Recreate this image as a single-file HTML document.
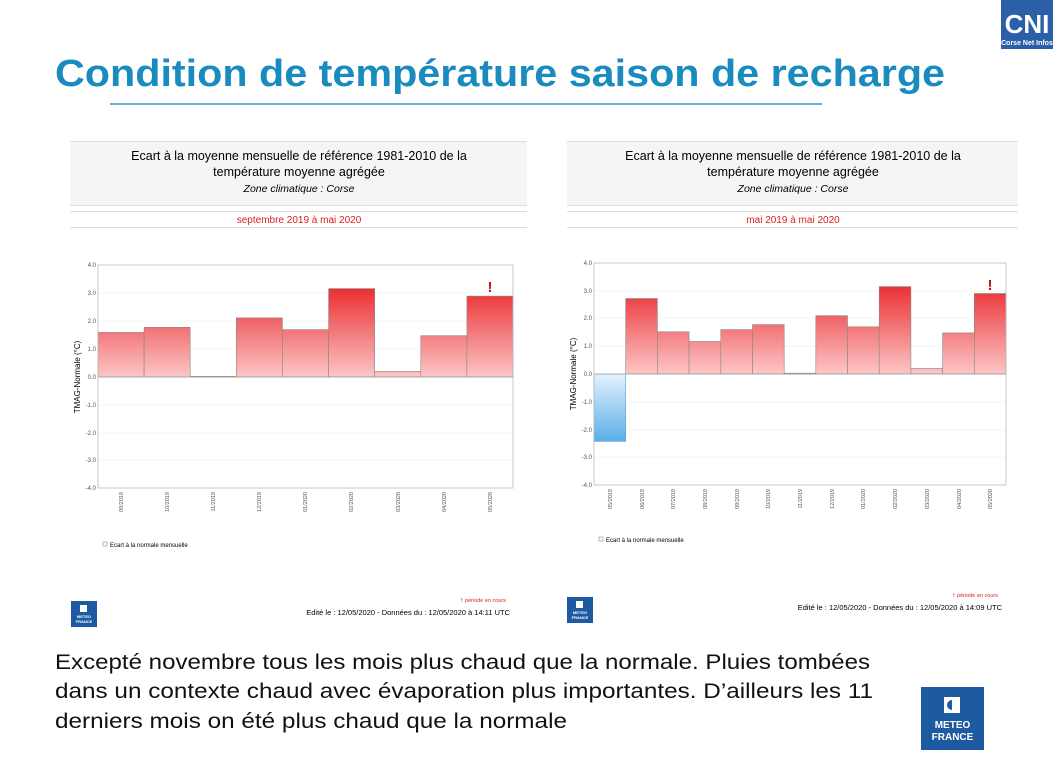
<!DOCTYPE html>
<html><head><meta charset="utf-8"><style>
html,body{margin:0;padding:0;background:#fff;}
svg{display:block;font-family:"Liberation Sans",sans-serif;}
</style></head><body>
<svg width="1053" height="783" viewBox="0 0 1053 783" xmlns="http://www.w3.org/2000/svg">
<defs>
<linearGradient id="rl" gradientUnits="userSpaceOnUse" x1="0" y1="286" x2="0" y2="377"><stop offset="0" stop-color="#ea2a2e"/><stop offset="1" stop-color="#fcc6c6"/></linearGradient>
<linearGradient id="rr" gradientUnits="userSpaceOnUse" x1="0" y1="283" x2="0" y2="374"><stop offset="0" stop-color="#ea2a2e"/><stop offset="1" stop-color="#fcc6c6"/></linearGradient>
<linearGradient id="bl" gradientUnits="userSpaceOnUse" x1="0" y1="374" x2="0" y2="441"><stop offset="0" stop-color="#e4f2fd"/><stop offset="1" stop-color="#5aaee8"/></linearGradient>
</defs>
<rect x="1001" y="0" width="52" height="49" fill="#2b5fa8"/>
<text x="1027" y="33" font-size="26" font-weight="bold" fill="#fff" text-anchor="middle">CNI</text>
<text x="1027" y="45" font-size="7" font-weight="bold" fill="#fff" text-anchor="middle">Corse Net Infos</text>
<text x="55" y="86" font-size="38" font-weight="bold" fill="#1a8bbf" textLength="890" lengthAdjust="spacingAndGlyphs">Condition de température saison de recharge</text>
<line x1="110" y1="104" x2="822" y2="104" stroke="#1a7fb5" stroke-width="1.2"/>

<rect x="70" y="141" width="457" height="64" fill="#f5f5f5"/>
<line x1="70" y1="141.5" x2="527" y2="141.5" stroke="#ddd"/>
<line x1="70" y1="205.5" x2="527" y2="205.5" stroke="#ddd"/>
<line x1="70" y1="211.5" x2="527" y2="211.5" stroke="#ddd"/>
<line x1="70" y1="227.5" x2="527" y2="227.5" stroke="#ddd"/>
<text x="299" y="160" font-size="12.5" text-anchor="middle">Ecart à la moyenne mensuelle de référence 1981-2010 de la</text>
<text x="299" y="176" font-size="12.5" text-anchor="middle">température moyenne  agrégée</text>
<text x="299" y="192" font-size="10.5" font-style="italic" text-anchor="middle">Zone climatique : Corse</text>
<text x="299" y="223" font-size="10" fill="#d92020" text-anchor="middle">septembre 2019 à mai 2020</text>
<g stroke="#eee" stroke-width="0.6">
<line x1="98" y1="293" x2="513" y2="293"/><line x1="98" y1="321" x2="513" y2="321"/><line x1="98" y1="349" x2="513" y2="349"/>
<line x1="98" y1="405" x2="513" y2="405"/><line x1="98" y1="433" x2="513" y2="433"/><line x1="98" y1="460" x2="513" y2="460"/>
</g>
<g stroke="#888" stroke-width="0.6" fill="url(#rl)">
<rect x="98" y="332.4" width="46.1" height="44.6"/>
<rect x="144.1" y="327.3" width="46.1" height="49.7"/>
<rect x="190.2" y="376.4" width="46.1" height="0.6"/>
<rect x="236.3" y="317.9" width="46.1" height="59.1"/>
<rect x="282.4" y="329.6" width="46.2" height="47.4"/>
<rect x="328.6" y="288.6" width="46.1" height="88.4"/>
<rect x="374.7" y="371.4" width="46.1" height="5.6"/>
<rect x="420.8" y="335.7" width="46.1" height="41.3"/>
<rect x="466.9" y="296.1" width="46.1" height="80.9"/>
</g>
<rect x="98" y="265" width="415" height="223" fill="none" stroke="#bbb" stroke-width="0.8"/>
<line x1="98" y1="377" x2="513" y2="377" stroke="#999" stroke-width="0.6"/>
<text x="490" y="292" font-size="15" font-weight="bold" fill="#c0141a" text-anchor="middle">!</text>
<g font-size="6" fill="#555" text-anchor="end">
<text x="96" y="267">4.0</text><text x="96" y="295">3.0</text><text x="96" y="323">2.0</text><text x="96" y="351">1.0</text><text x="96" y="379">0.0</text><text x="96" y="407">-1.0</text><text x="96" y="435">-2.0</text><text x="96" y="462">-3.0</text><text x="96" y="490">-4.0</text>
</g>
<text transform="translate(80,377) rotate(-90)" font-size="8" text-anchor="middle">TMAG-Normale (°C)</text>
<g font-size="5.5" fill="#555" text-anchor="end">
<text transform="translate(123,492) rotate(-90)">09/2019</text>
<text transform="translate(169,492) rotate(-90)">10/2019</text>
<text transform="translate(215,492) rotate(-90)">11/2019</text>
<text transform="translate(261,492) rotate(-90)">12/2019</text>
<text transform="translate(307,492) rotate(-90)">01/2020</text>
<text transform="translate(353,492) rotate(-90)">02/2020</text>
<text transform="translate(400,492) rotate(-90)">03/2020</text>
<text transform="translate(446,492) rotate(-90)">04/2020</text>
<text transform="translate(492,492) rotate(-90)">05/2020</text>
</g>
<rect x="103" y="542" width="4" height="4" fill="none" stroke="#777" stroke-width="0.5"/>
<text x="110" y="547" font-size="6">Ecart à la normale mensuelle</text>
<text x="506" y="602" font-size="5.5" fill="#d92020" text-anchor="end">!: période en cours</text>
<text x="510" y="615" font-size="7.5" text-anchor="end">Edité le : 12/05/2020 - Données du : 12/05/2020 à 14:11 UTC</text>
<rect x="71" y="601" width="26" height="26" fill="#1d5aa0"/>
<rect x="80" y="605" width="7" height="7" fill="#fff"/>
<text x="84" y="618" font-size="4" font-weight="bold" fill="#fff" text-anchor="middle">METEO</text>
<text x="84" y="623" font-size="4" font-weight="bold" fill="#fff" text-anchor="middle">FRANCE</text>

<rect x="567" y="141" width="451" height="64" fill="#f5f5f5"/>
<line x1="567" y1="141.5" x2="1018" y2="141.5" stroke="#ddd"/>
<line x1="567" y1="205.5" x2="1018" y2="205.5" stroke="#ddd"/>
<line x1="567" y1="211.5" x2="1018" y2="211.5" stroke="#ddd"/>
<line x1="567" y1="227.5" x2="1018" y2="227.5" stroke="#ddd"/>
<text x="793" y="160" font-size="12.5" text-anchor="middle">Ecart à la moyenne mensuelle de référence 1981-2010 de la</text>
<text x="793" y="176" font-size="12.5" text-anchor="middle">température moyenne  agrégée</text>
<text x="793" y="192" font-size="10.5" font-style="italic" text-anchor="middle">Zone climatique : Corse</text>
<text x="793" y="223" font-size="10" fill="#d92020" text-anchor="middle">mai 2019 à mai 2020</text>
<g stroke="#eee" stroke-width="0.6">
<line x1="594" y1="291" x2="1006" y2="291"/><line x1="594" y1="318" x2="1006" y2="318"/><line x1="594" y1="346" x2="1006" y2="346"/>
<line x1="594" y1="402" x2="1006" y2="402"/><line x1="594" y1="430" x2="1006" y2="430"/><line x1="594" y1="457" x2="1006" y2="457"/>
</g>
<rect x="594" y="374" width="31.7" height="67.4" fill="url(#bl)" stroke="#6aa0d0" stroke-width="0.6"/>
<g stroke="#888" stroke-width="0.6" fill="url(#rr)">
<rect x="625.7" y="298.5" width="31.7" height="75.5"/>
<rect x="657.4" y="331.8" width="31.7" height="42.2"/>
<rect x="689.1" y="341.5" width="31.7" height="32.5"/>
<rect x="720.8" y="329.6" width="31.7" height="44.4"/>
<rect x="752.5" y="324.6" width="31.7" height="49.4"/>
<rect x="784.2" y="373.2" width="31.6" height="0.8"/>
<rect x="815.8" y="315.7" width="31.7" height="58.3"/>
<rect x="847.5" y="326.8" width="31.7" height="47.2"/>
<rect x="879.2" y="286.6" width="31.7" height="87.4"/>
<rect x="910.9" y="368.4" width="31.7" height="5.6"/>
<rect x="942.6" y="332.9" width="31.7" height="41.1"/>
<rect x="974.3" y="293.5" width="31.7" height="80.5"/>
</g>
<rect x="594" y="263" width="412" height="222" fill="none" stroke="#bbb" stroke-width="0.8"/>
<line x1="594" y1="374" x2="1006" y2="374" stroke="#999" stroke-width="0.6"/>
<text x="990" y="290" font-size="15" font-weight="bold" fill="#c0141a" text-anchor="middle">!</text>
<g font-size="6" fill="#555" text-anchor="end">
<text x="592" y="265">4.0</text><text x="592" y="293">3.0</text><text x="592" y="320">2.0</text><text x="592" y="348">1.0</text><text x="592" y="376">0.0</text><text x="592" y="404">-1.0</text><text x="592" y="432">-2.0</text><text x="592" y="459">-3.0</text><text x="592" y="487">-4.0</text>
</g>
<text transform="translate(576,374) rotate(-90)" font-size="8" text-anchor="middle">TMAG-Normale (°C)</text>
<g font-size="5.5" fill="#555" text-anchor="end">
<text transform="translate(612,489) rotate(-90)">05/2019</text>
<text transform="translate(644,489) rotate(-90)">06/2019</text>
<text transform="translate(675,489) rotate(-90)">07/2019</text>
<text transform="translate(707,489) rotate(-90)">08/2019</text>
<text transform="translate(739,489) rotate(-90)">09/2019</text>
<text transform="translate(770,489) rotate(-90)">10/2019</text>
<text transform="translate(802,489) rotate(-90)">11/2019</text>
<text transform="translate(834,489) rotate(-90)">12/2019</text>
<text transform="translate(865,489) rotate(-90)">01/2020</text>
<text transform="translate(897,489) rotate(-90)">02/2020</text>
<text transform="translate(929,489) rotate(-90)">03/2020</text>
<text transform="translate(961,489) rotate(-90)">04/2020</text>
<text transform="translate(992,489) rotate(-90)">05/2020</text>
</g>
<rect x="599" y="537" width="4" height="4" fill="none" stroke="#777" stroke-width="0.5"/>
<text x="606" y="542" font-size="6">Ecart à la normale mensuelle</text>
<text x="998" y="597" font-size="5.5" fill="#d92020" text-anchor="end">!: période en cours</text>
<text x="1002" y="610" font-size="7.5" text-anchor="end">Edité le : 12/05/2020 - Données du : 12/05/2020 à 14:09 UTC</text>
<rect x="567" y="597" width="26" height="26" fill="#1d5aa0"/>
<rect x="576" y="601" width="7" height="7" fill="#fff"/>
<text x="580" y="614" font-size="4" font-weight="bold" fill="#fff" text-anchor="middle">METEO</text>
<text x="580" y="619" font-size="4" font-weight="bold" fill="#fff" text-anchor="middle">FRANCE</text>

<g font-size="21" fill="#111">
<text x="55" y="669" textLength="815" lengthAdjust="spacingAndGlyphs">Excepté novembre tous les mois plus chaud que la normale. Pluies tombées</text>
<text x="55" y="698" textLength="818" lengthAdjust="spacingAndGlyphs">dans un contexte chaud avec évaporation plus importantes. D’ailleurs les 11</text>
<text x="55" y="728" textLength="512" lengthAdjust="spacingAndGlyphs">derniers mois on été plus chaud que la normale</text>
</g>
<rect x="921" y="687" width="63" height="63" fill="#1d5aa0"/>
<rect x="944" y="697" width="16" height="16" fill="#fff"/>
<circle cx="952" cy="705" r="5" fill="#1d5aa0"/>
<rect x="952" y="699" width="5" height="12" fill="#fff"/>
<text x="952.5" y="728" font-size="10" font-weight="bold" fill="#fff" text-anchor="middle">METEO</text>
<text x="952.5" y="740" font-size="10" font-weight="bold" fill="#fff" text-anchor="middle">FRANCE</text>
</svg>
</body></html>
